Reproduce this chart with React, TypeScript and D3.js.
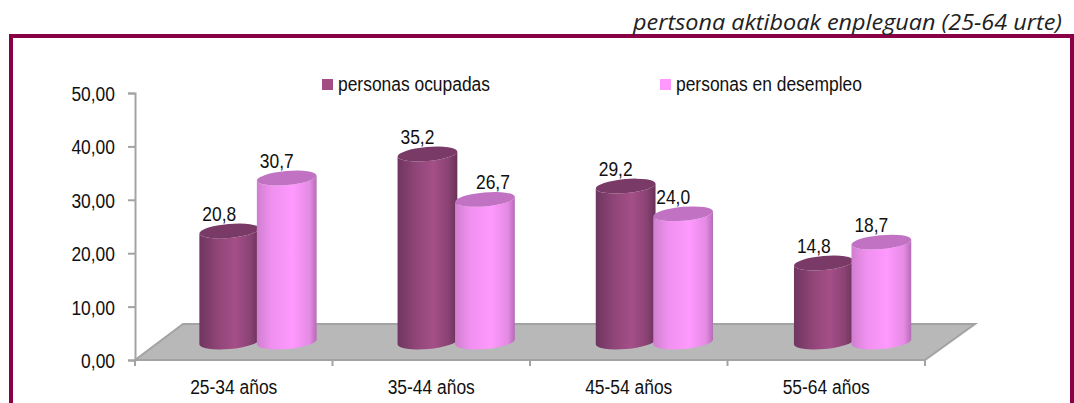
import React, { useEffect, useRef } from "react";
import * as d3 from "d3";

const categories = ["25-34 años", "35-44 años", "45-54 años", "55-64 años"];
const seriesNames = ["personas ocupadas", "personas en desempleo"];
const ocupadas = [20.8, 35.2, 29.2, 14.8];
const desempleo = [30.7, 26.7, 24.0, 18.7];
const yTicks = [0, 10, 20, 30, 40, 50];
const yTickLabels = ["0,00", "10,00", "20,00", "30,00", "40,00", "50,00"];
const subtitle = "pertsona aktiboak enpleguan (25-64 urte)";

const width = 1074;
const height = 403;
const plotLeft = 135;
const plotRight = 925;
const plotBottom = 360;
const plotTop = 93;
const depthX = 48;
const depthY = 36;
const rx = 30;
const ry = 7;
const tilt = -5;
const textFont = "'Liberation Sans', Arial, sans-serif";
const textSize = 21;
const squeeze = "scale(0.83,1)";

const cylinder = (cx: number, yTop: number, yBase: number) => {
  const a = (tilt * Math.PI) / 180;
  const dx = rx * Math.cos(a);
  const dy = rx * Math.sin(a);
  return `M${cx - dx},${yTop - dy} L${cx - dx},${yBase - dy} A${rx},${ry} ${tilt} 0 0 ${cx + dx},${yBase + dy} L${cx + dx},${yTop + dy} A${rx},${ry} ${tilt} 0 1 ${cx - dx},${yTop - dy} Z`;
};

export default function App() {
  const ref = useRef<SVGSVGElement | null>(null);

  useEffect(() => {
    const svg = d3.select(ref.current);
    svg.selectAll("*").remove();

    const x0 = d3.scaleBand().domain(categories).range([plotLeft, plotRight]);
    // los cilindros tienen un paso algo mayor que el eje
    const xBars = d3.scaleBand().domain(categories).range([158.9, 951.7]);
    const x1 = d3.scaleBand().domain(seriesNames).range([-57.5, 57.5]);
    const y = d3.scaleLinear().domain([0, 50]).range([plotBottom, plotTop]);

    const defs = svg.append("defs");
    const addGrad = (id: string, stops: [number, string][]) => {
      const g = defs.append("linearGradient").attr("id", id);
      stops.forEach(([o, c]) => g.append("stop").attr("offset", o).attr("stop-color", c));
    };
    addGrad("gradDark", [[0, "#6f3560"], [0.3, "#8f4577"], [0.6, "#a54f88"], [0.85, "#8a4274"], [1, "#693258"]]);
    addGrad("gradLight", [[0, "#cf7fcf"], [0.25, "#f090f0"], [0.6, "#ff99ff"], [0.88, "#e58ae5"], [1, "#b56cb5"]]);

    // marco
    svg.append("path")
      .attr("d", `M11,${height} L11,36 L1072,36 L1072,${height}`)
      .attr("fill", "none")
      .attr("stroke", "#8a0046")
      .attr("stroke-width", 4);

    svg.append("text")
      .attr("x", 633)
      .attr("y", 30)
      .attr("font-family", "'Open Sans', sans-serif")
      .attr("font-style", "italic")
      .attr("font-size", 21)
      .attr("fill", "#222")
      .attr("textLength", 429)
      .attr("lengthAdjust", "spacingAndGlyphs")
      .text(subtitle);

    // suelo
    const floor = d3.line()([
      [plotLeft, plotBottom],
      [plotLeft + depthX, plotBottom - depthY],
      [plotRight + depthX + 2, plotBottom - depthY],
      [plotRight, plotBottom],
    ]) + "Z";
    svg.append("path").attr("d", floor).attr("fill", "#b8b8b8");
    svg.append("path")
      .attr("d", floor)
      .attr("fill", "none")
      .attr("stroke", "#a3a3a3")
      .attr("stroke-width", 2);

    // ejes
    const yAxis = svg.append("g")
      .attr("transform", `translate(${plotLeft},0)`)
      .call(
        d3.axisLeft(y)
          .tickValues(yTicks)
          .tickSize(7)
          .tickPadding(0)
          .tickFormat((_, i) => yTickLabels[i])
      );
    yAxis.select(".domain").attr("stroke", "#a3a3a3").attr("stroke-width", 2);
    yAxis.selectAll(".tick line").attr("stroke", "#a3a3a3").attr("stroke-width", 2);
    yAxis.selectAll(".tick text")
      .attr("x", null)
      .attr("dy", null)
      .attr("font-family", textFont)
      .attr("font-size", textSize)
      .attr("fill", "#111")
      .attr("transform", `translate(-20,7.5) ${squeeze}`);

    const xAxis = svg.append("g")
      .attr("transform", `translate(0,${plotBottom})`)
      .call(d3.axisBottom(x0).tickSize(0).tickPadding(0));
    xAxis.select(".domain").remove();
    xAxis.selectAll(".tick text")
      .attr("y", null)
      .attr("dy", null)
      .attr("font-family", textFont)
      .attr("font-size", textSize)
      .attr("fill", "#111")
      .attr("transform", `translate(0,33.5) ${squeeze}`);
    xAxis.selectAll("line.sep")
      .data(d3.range(categories.length + 1))
      .join("line")
      .attr("class", "sep")
      .attr("x1", (i) => plotLeft + i * x0.step())
      .attr("x2", (i) => plotLeft + i * x0.step())
      .attr("y1", 0)
      .attr("y2", 6)
      .attr("stroke", "#a3a3a3")
      .attr("stroke-width", 2);

    // cilindros
    const cylinders = [
      { name: seriesNames[0], values: ocupadas, grad: "url(#gradDark)", top: "#793a68" },
      { name: seriesNames[1], values: desempleo, grad: "url(#gradLight)", top: "#c272c2" },
    ];
    const yBase = (v: number) => y(v) - depthY / 2;
    categories.forEach((c, i) => {
      const center = xBars(c)! + xBars.bandwidth() / 2;
      cylinders.forEach((s) => {
        const cx = center + x1(s.name)! + x1.bandwidth() / 2;
        const v = s.values[i];
        svg.append("path")
          .attr("d", cylinder(cx, yBase(v), yBase(0)))
          .attr("fill", s.grad);
        svg.append("ellipse")
          .attr("rx", rx)
          .attr("ry", ry)
          .attr("transform", `translate(${cx},${yBase(v)}) rotate(${tilt})`)
          .attr("fill", s.top);
        // la etiqueta 26,7 va a la derecha en el original
        const nudge = v === 26.7 ? 8 : -10;
        svg.append("text")
          .attr("text-anchor", "middle")
          .attr("font-family", textFont)
          .attr("font-size", textSize)
          .attr("fill", "#111")
          .attr("transform", `translate(${cx + nudge},${yBase(v) - 10}) ${squeeze}`)
          .text(v.toFixed(1).replace(".", ","));
      });
    });

    // leyenda
    const legendX = [322, 660];
    const legendFill = ["#a34d85", "#ff99ff"];
    seriesNames.forEach((name, i) => {
      svg.append("rect")
        .attr("x", legendX[i])
        .attr("y", 79)
        .attr("width", 11)
        .attr("height", 11)
        .attr("fill", legendFill[i]);
      svg.append("text")
        .attr("font-family", textFont)
        .attr("font-size", textSize)
        .attr("fill", "#111")
        .attr("transform", `translate(${legendX[i] + 16},91) ${squeeze}`)
        .text(name);
    });
  }, []);

  return (
    <svg
      ref={ref}
      width={width}
      height={height}
      style={{ position: "absolute", left: 0, top: 0, background: "#fff" }}
    />
  );
}
